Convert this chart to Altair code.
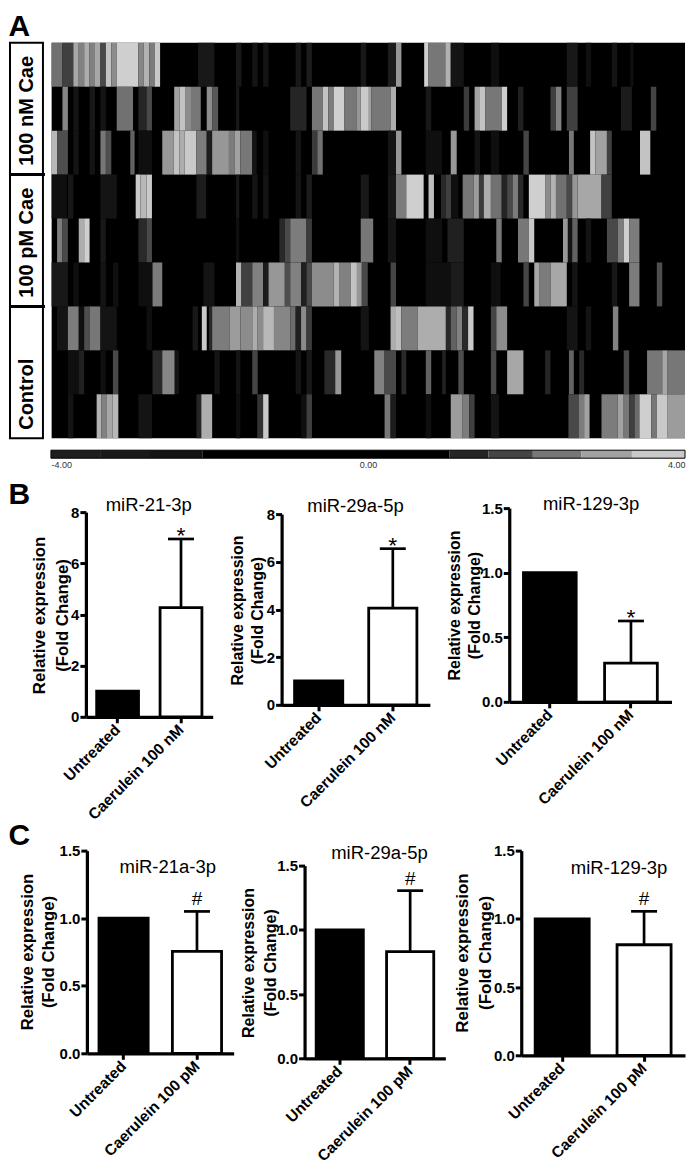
import altair as alt
import pandas as pd

FONT = "Liberation Sans"

# ---------- Heat map: (first column, last column, level) runs per row; everything else is black
row_0 = [(0,2,2.3),(2,4,1.3),(4,5,3.3),(5,6,2.6),(6,7,3.4),(7,8,2.6),(8,9,3.3),(9,10,1.5),(10,11,3.8),(11,12,2.8),(12,16,4),(16,17,2.7),(17,18,3.5),(18,19,2.5),(19,20,3.9),(27,30,.4),(34,35,.4),(37,38,.3),(39,40,.3),(45,46,.4),(47,48,.5),(57,58,.4),(62,63.5,.5),(63.5,64.5,3),(68.7,69.5,4),(69.5,72.6,2.4),(72.6,73.6,3.5),(73.6,76,.3),(81,82.5,.2),(95,97,.4),(98.5,99.5,.2),(103.3,104.3,.3),(106.7,107.3,.2)]
row_1 = [(2,3,2.7),(4,5,.3),(7,8,.4),(9,10,.3),(12,15,2.3),(16,17.5,.7),(17.5,18.5,1.5),(22.6,23.6,3.2),(23.6,24.6,3.8),(24.6,25.7,2.8),(25.7,27.5,2.4),(28.6,29.6,2.8),(29.6,30.7,1.8),(34,34.6,.4),(44,47,.7),(48,50,2.4),(50,51,3.8),(51,52,2.5),(52,54,4),(54,56.3,2.4),(56.3,57,3),(57,58.5,3.9),(58.5,59,3.2),(59,62.5,2.4),(62.5,63.5,3.4),(69,70,.4),(76,77,1.2),(78,79,3.2),(79,80,3.8),(80,83,2.4),(83,84,4),(86,87,.6),(92,93,1.3),(93,94,2.6),(95,97,1.3),(105,107,.5),(110.5,111.5,1.4)]
row_2 = [(0,1,3.6),(1,3,1.6),(4,5,.3),(7,8,.3),(9,10,2.4),(10,11,1.6),(14.5,15.3,2),(16,18.5,.2),(20.4,22.5,3),(22.5,23.6,3.8),(23.6,24.5,3.4),(24.5,26.7,3.9),(26.7,28.6,2.5),(28.6,29.6,.5),(29.6,32.7,3),(32.7,33.8,2.5),(33.8,34.8,3.2),(34.8,37,2.4),(37,37.8,.3),(39,40,.2),(45,46,.3),(48,49,1.2),(49,50,2.3),(62,63.5,.3),(63.5,64.5,3),(69,72,.2),(73.6,74.7,3),(78,79,.3),(81,82.5,.2),(87,88,1.4),(95.4,96.3,2.4),(99.3,100.3,3.8),(100.3,102.4,3.2),(102.4,103.3,1.3),(108.5,110.4,3.8)]
row_3 = [(0,2.8,.2),(3,4,.4),(9,12,.3),(15.5,16.4,3.9),(16.4,17.5,3.6),(17.5,18.5,3.9),(26.7,28.5,.5),(34,34.6,.4),(37,38,.3),(39,40,.3),(45,46,.3),(47,48,.5),(57,58.5,.4),(62,63.5,.4),(63.5,65.4,2.5),(65.4,68.6,4),(69.5,70.5,3.7),(71.8,72.7,.8),(72.7,73.7,1.3),(73.7,75,.2),(75.8,77.8,2.4),(77.8,78.8,3.1),(78.8,79.7,1.2),(79.7,81,3.4),(81,83,2.3),(83,84,.7),(84,85,1.5),(85,86,2.5),(86,87,.8),(88,91,4),(91,92,2.8),(92,93,3.5),(93,95,2.3),(95,96,1.5),(96,97,3),(97,101.4,3.3),(101.4,103.3,1.3)]
row_4 = [(1,2,2.5),(2,3,1.5),(5,6,3.4),(6,7,4),(9,10,.4),(16,17.5,.8),(17.5,18.5,1.5),(34,34.6,.2),(42,43,.8),(43,44,1.5),(44,47,2.5),(47,48,1.2),(57,59.3,2.4),(62,63.5,.3),(69,72,.2),(73,76,.6),(82,83,2.4),(86,88,2.4),(88,89,3.9),(94.3,95.2,3),(95.2,96,.3),(96,97,2),(98.5,99.5,.3),(102.4,104.4,1.5),(104.4,105.5,2.5),(105.5,106.5,4),(106.5,108.4,2.5)]
row_5 = [(0,3,.4),(4,5,.2),(9,10,.3),(11.3,12.3,.2),(16,18.5,.2),(18.6,20.4,2.5),(28,30,.3),(34,35,3.5),(35,37,1.3),(37,39,2.6),(39,40,.5),(40,43,3),(43,44,1.6),(44,46,2.6),(46,47,.6),(47,48,1.5),(48,52,2.8),(52,53,3.5),(53,55.2,2.6),(55.2,56.3,3.8),(56.3,57.2,3),(57.2,58.3,1.5),(62.5,63.5,1.4),(69,73.6,.2),(73.6,76,.5),(81,82.8,.2),(87,88,1.4),(89,90,3.3),(90,92,2.5),(92,95,3.3),(96,97,.3),(103.3,104.3,.4),(106.5,108.4,2.5),(111.6,112.6,1.6)]
row_6 = [(1,3,.3),(3,5,2.5),(5,6,.2),(6,7,1.6),(7,9,2.4),(9,12,.3),(17.5,18.5,.2),(26,27,.4),(27.7,28.6,3.9),(29,29.6,.8),(29.6,32.8,2.5),(32.8,34.8,3.1),(34.8,37,2.8),(37,37.9,3.4),(37.9,39,2.8),(39,41,3.6),(41,44,2.7),(44,45,2.2),(45,46,.6),(46,47,2.8),(47,48,1.2),(57,58.5,.3),(62.5,63.5,3.4),(63.5,64.5,3.7),(64.5,67.5,2.5),(67.5,72.7,3.4),(72.7,73.6,.8),(73.6,74.7,2),(74.7,75.7,2.6),(75.7,76.8,.8),(76.8,77.8,3.9),(81,82,1.4),(82,84,2.8),(95,97,.3),(98.5,99.5,.3),(103.5,104.5,2.6)]
row_7 = [(3,5,.2),(5,6,.6),(9,10,.2),(11.3,12.3,1.5),(18.6,20.4,.8),(20.4,22.7,2.7),(22.7,23.5,.3),(30,31,.3),(34,34.8,.3),(37,38,1.4),(45,46,.3),(47,48,.4),(50.3,52.3,.8),(52.3,53.4,3),(59.5,61.4,2.6),(61.4,63.5,1.5),(64.5,65.4,.8),(69,70,2),(72,72.7,.6),(75,76,1.6),(81,82,1.5),(84,87,3.3),(91,92,.7),(95.4,96.3,2),(97.3,98.2,.8),(105.5,106.5,1.5),(109.8,112.6,2.4),(112.6,113.6,3.3),(113.6,116.8,2.4)]
row_8 = [(3,4,.3),(8.3,9.2,3.5),(9.2,10.2,2.6),(10.2,11.2,3.3),(11.2,12.3,3.6),(16,18.5,.3),(26.7,27.6,.7),(27.6,29.6,3.4),(34,34.8,.2),(37.9,39,1),(39,40,3.9),(46,47,.2),(47,48,1.3),(61.4,62.5,2.4),(62.5,63.5,.5),(69,70,.2),(73.6,75.8,3.1),(75.8,77,2.5),(77,78,1.3),(81,82.5,.3),(95.3,97.2,1.5),(97.2,98.2,2.5),(98.2,99.2,3.2),(101.4,104.4,2.5),(104.4,105.5,3.2),(105.5,106.5,2.4),(106.5,107.5,1.3),(107.5,108.4,2.2),(108.4,110.6,4),(110.6,111.6,2.4),(111.6,113.6,3.9),(113.6,116.8,3.1)]
heat_rows = [row_0, row_1, row_2, row_3, row_4, row_5, row_6, row_7, row_8]
n_columns = 116.8
n_rows = 9

# ---------- Heat map group labels
group_names = ["100 nM Cae", "100 pM Cae", "Control"]
group_first_row = [0, 3, 6]
group_last_row = [3, 6, 9]
group_label_row = [1.55, 4.55, 8.0]

# ---------- Colour bar
bar_start = [-4.0, -3.38, -2.75, -2.09, 1.03, 1.52, 2.08, 2.69, 3.33]
bar_end = [-3.38, -2.75, -2.09, 1.03, 1.52, 2.08, 2.69, 3.33, 4.0]
bar_level = [.55, .45, .3, 0, .7, 1.4, 2.4, 3.2, 3.9]

# ---------- Bar charts
cat_100n = ["Untreated", "Caerulein 100 nM"]
cat_100p = ["Untreated", "Caerulein 100 pM"]
b1_mean, b1_top = [1.0, 4.27], [None, 6.95]
b2_mean, b2_top = [1.0, 4.06], [None, 6.55]
b3_mean, b3_top = [1.0, 0.30], [None, 0.626]
c1_mean, c1_top = [1.0, 0.755], [None, 1.05]
c2_mean, c2_top = [1.0, 0.83], [None, 1.305]
c3_mean, c3_top = [1.0, 0.81], [None, 1.055]
ticks_8 = [0, 2, 4, 6, 8]
ticks_15 = [0.0, 0.5, 1.0, 1.5]

LEVELS = alt.Scale(domain=[0, 4], range=["#000000", "#cfcfcf"])


def letter_mark(t, y, size):
    return alt.Chart(pd.DataFrame({"t": [t]})).mark_text(
        font=FONT, fontSize=size, fontWeight="bold", align="left", baseline="alphabetic", color="black"
    ).encode(x=alt.value(0.5), y=alt.value(y), text="t:N")


def heat_panel():
    recs = [{"x": 0, "x2": n_columns, "y": 0, "y2": n_rows, "level": 0}]
    for r, runs in enumerate(heat_rows):
        recs += [{"x": a, "x2": b, "y": r, "y2": r + 1, "level": v} for a, b, v in runs]
    xs = alt.Scale(domain=[0, n_columns], range=[43.7, 678], nice=False, zero=False)
    ys = alt.Scale(domain=[0, n_rows], range=[34, 430], nice=False, zero=False)
    cells = alt.Chart(pd.DataFrame(recs)).mark_rect(strokeWidth=0).encode(
        x=alt.X("x:Q", scale=xs, axis=None), x2="x2:Q",
        y=alt.Y("y:Q", scale=ys, axis=None), y2="y2:Q",
        color=alt.Color("level:Q", scale=LEVELS, legend=None),
    )
    g = pd.DataFrame({"name": group_names, "a": group_first_row, "b": group_last_row, "mid": group_label_row})
    boxes = alt.Chart(g).mark_rect(fill="white", stroke="black", strokeWidth=2).encode(
        x=alt.value(2), x2=alt.value(35),
        y=alt.Y("a:Q", scale=ys, axis=None), y2="b:Q",
    )
    seps = alt.Chart(g[g.a > 0]).mark_rule(color="black", strokeWidth=3).encode(
        x=alt.value(2), x2=alt.value(37), y=alt.Y("a:Q", scale=ys, axis=None),
    )
    names = alt.Chart(g).mark_text(font=FONT, fontSize=20, fontWeight="bold", angle=270,
                                   color="black", baseline="middle", align="center").encode(
        x=alt.value(19), y=alt.Y("mid:Q", scale=ys, axis=None), text="name:N",
    )
    letter = letter_mark("A", 27, 30)
    return alt.layer(cells, boxes, seps, names, letter).properties(width=678, height=440)


def bar_panel():
    d = pd.DataFrame({"a": bar_start, "b": bar_end, "level": bar_level})
    xs = alt.Scale(domain=[-4, 4], range=[43, 678], nice=False, zero=False)
    seg = alt.Chart(d).mark_rect(strokeWidth=0).encode(
        x=alt.X("a:Q", scale=xs, axis=alt.Axis(values=[-4, 0, 4], format=".2f", domain=False, ticks=False, grid=False,
                                               title=None, labels=True, labelFont=FONT, labelFontSize=9, labelColor="#333333",
                                               labelFlush=True, labelPadding=1, offset=-11,
                                               labelExpr="replace(datum.label, '\u2212', '-')")),
        x2="b:Q",
        y=alt.value(2), y2=alt.value(10),
        color=alt.Color("level:Q", scale=LEVELS, legend=None),
    )
    frame = alt.Chart(pd.DataFrame({"a": [-4], "b": [4]})).mark_rect(fill=None, stroke="black", strokeWidth=1).encode(
        x=alt.X("a:Q", scale=xs), x2="b:Q", y=alt.value(2), y2=alt.value(10),
    )
    return alt.layer(seg, frame).properties(width=678, height=22)


def spacer(height):
    return alt.Chart(pd.DataFrame({"s": [0]})).mark_point(opacity=0, size=0).encode(
        x=alt.value(0), y=alt.value(0)).properties(width=678, height=height)


def panel(cats, mean, top, name, mark, ticks, fmt, ymax, width, height, left, axis_x, axis_end,
          y_top, y_zero, band_gap, title_xy, ytitle_x, ytitle_y, line_h, title_size, mark_size, mark_dy, label=None, label_y=0):
    d = pd.DataFrame({"group": cats, "mean": mean, "top": top, "mark": ["", mark]})
    xa = axis_x - left
    xs = alt.Scale(domain=cats, range=[xa, axis_end - left], paddingInner=band_gap, paddingOuter=band_gap / 2)
    ys = alt.Scale(domain=[0, ymax], range=[y_zero, y_top], nice=False, zero=False)
    xax = alt.Axis(title=None, domainWidth=3.2, domainColor="black", tickColor="black", tickWidth=3, tickSize=6,
                   labelAngle=-45, labelAlign="right", labelBaseline="middle", labelFont=FONT, labelFontSize=15.5,
                   labelFontWeight="bold", labelColor="black", labelPadding=4, offset=y_zero - height, grid=False)
    yax = alt.Axis(title=["Relative expression", "(Fold Change)"], values=ticks, format=fmt, grid=False,
                   domainWidth=3.2, domainColor="black", tickColor="black", tickWidth=3, tickSize=6,
                   labelFont=FONT, labelFontSize=15, labelFontWeight="bold", labelColor="black", labelPadding=1,
                   offset=-xa, titleFont=FONT, titleFontSize=title_size, titleFontWeight="bold", titleColor="black",
                   titleAngle=270, titleAlign="center", titleBaseline="middle", titleLineHeight=line_h,
                   titleX=ytitle_x - axis_x, titleY=ytitle_y)
    base = alt.Chart(d)
    bars = base.mark_bar(stroke="black", strokeWidth=2.8).encode(
        x=alt.X("group:N", scale=xs, sort=cats, axis=xax),
        y=alt.Y("mean:Q", scale=ys, axis=yax), y2=alt.datum(0),
        color=alt.Color("group:N", scale=alt.Scale(domain=cats, range=["black", "white"]), legend=None),
    )
    err_y = alt.Y("top:Q", scale=ys)
    err_x = alt.X("group:N", scale=xs, sort=cats)
    flt = "datum.top != null"
    stem = base.transform_filter(flt).mark_rule(color="black", strokeWidth=2.7).encode(
        x=err_x, y=err_y, y2="mean:Q")
    cap = base.transform_filter(flt).mark_tick(color="black", thickness=2.7, size=26, opacity=1).encode(
        x=err_x, y=err_y)
    sig = base.transform_filter(flt).mark_text(
        font=FONT, fontSize=mark_size, color="black", baseline="alphabetic", align="center", dy=mark_dy).encode(
        x=err_x, y=err_y, text="mark:N")
    head = alt.Chart(pd.DataFrame({"t": [name]})).mark_text(
        font=FONT, fontSize=18.5, color="black", baseline="middle", align="center").encode(
        x=alt.value(title_xy[0] - left), y=alt.value(title_xy[1]), text="t:N")
    layers = [bars, stem, cap, sig, head]
    if label:
        layers.append(letter_mark(label, label_y, 30))
    return alt.layer(*layers).properties(width=width, height=height)


# panel rows: page x minus the 8px margin, page y minus the row's top
B_TOP, C_TOP = 470, 810
B_H, C_H = 340, 351
OX = 8
row_b = alt.hconcat(
    panel(cat_100n, b1_mean, b1_top, "miR-21-3p", "*", ticks_8, "d", 8, 218, B_H, 0, 86 - OX, 213 - OX,
          512 - B_TOP, 717 - B_TOP, 0.34, (149 - OX, 505 - B_TOP), 40 - OX, 615 - B_TOP, 23, 16.8, 23, 4, "B", 504 - B_TOP),
    panel(cat_100n, b2_mean, b2_top, "miR-29a-5p", "*", ticks_8, "d", 8, 214, B_H, 218, 282 - OX, 430.5 - OX,
          514 - B_TOP, 705 - B_TOP, 0.35, (356 - OX, 506 - B_TOP), 238 - OX, 610 - B_TOP, 20, 16, 23, 4),
    panel(cat_100n, b3_mean, b3_top, "miR-129-3p", "*", ticks_15, ".1f", 1.5, 246, B_H, 432, 510 - OX, 672.5 - OX,
          508 - B_TOP, 702 - B_TOP, 0.35, (592 - OX, 504 - B_TOP), 455 - OX, 605 - B_TOP, 20, 16, 23, 4),
    spacing=0, bounds="flush",
)
row_c = alt.hconcat(
    panel(cat_100p, c1_mean, c1_top, "miR-21a-3p", "#", ticks_15, ".1f", 1.5, 218, C_H, 0, 87 - OX, 234 - OX,
          851 - C_TOP, 1054 - C_TOP, 0.33, (168 - OX, 867 - C_TOP), 28 - OX, 952 - C_TOP, 21, 16.7, 19, -6, "C", 845 - C_TOP),
    panel(cat_100p, c2_mean, c2_top, "miR-29a-5p", "#", ticks_15, ".1f", 1.5, 214, C_H, 218, 305 - OX, 446 - OX,
          866 - C_TOP, 1059 - C_TOP, 0.33, (380 - OX, 853 - C_TOP), 249 - OX, 963 - C_TOP, 22, 16, 19, -6),
    panel(cat_100p, c3_mean, c3_top, "miR-129-3p", "#", ticks_15, ".1f", 1.5, 246, C_H, 432, 522 - OX, 686 - OX,
          851 - C_TOP, 1056 - C_TOP, 0.34, (620 - OX, 868 - C_TOP), 463 - OX, 953 - C_TOP, 23, 17, 19, -6),
    spacing=0, bounds="flush",
)

# Nested rows count as height 0 in a flush column, so a blank spacer carries row B's height.
chart = alt.vconcat(heat_panel(), bar_panel(), row_b, spacer(B_H), row_c, spacer(C_H), spacing=0, bounds="flush").properties(
    padding=0, background="white",
).configure_view(stroke=None).configure_concat(spacing=0)

chart.save("out.html", embed_options={"renderer": "svg", "actions": False})
